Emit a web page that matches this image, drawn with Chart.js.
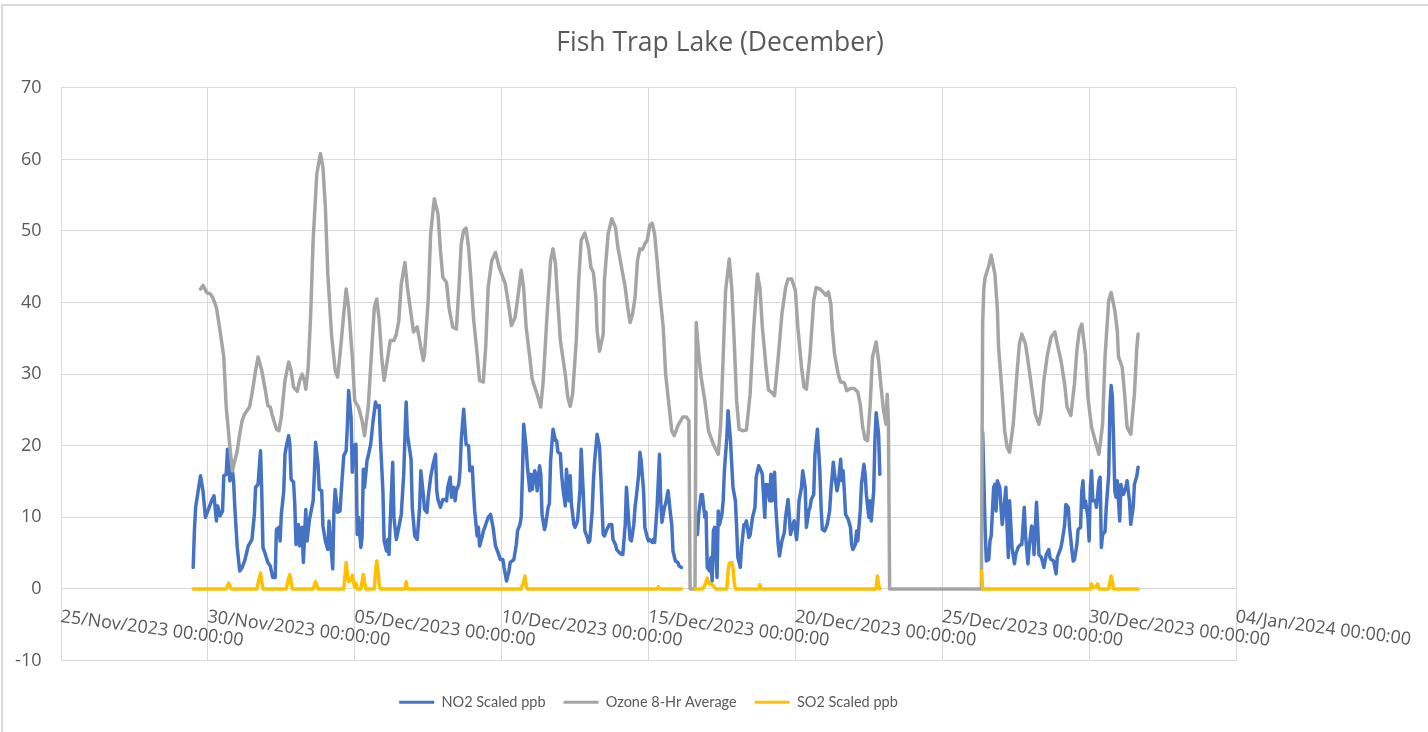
<!DOCTYPE html>
<html>
<head>
<meta charset="utf-8">
<title>Fish Trap Lake (December)</title>
<script src="https://cdn.jsdelivr.net/npm/chart.js@4.4.1/dist/chart.umd.min.js"></script>
<style>
  html, body { margin: 0; padding: 0; background: #fff; }
  canvas { display: block; }
</style>
</head>
<body>
<canvas id="grafico" width="1428" height="732"></canvas>
<script>
// x values are hours since 25/Nov/2023 00:00
const tickHours = [0, 120, 240, 360, 480, 600, 720, 840, 960];
const tickLabels = [
  '25/Nov/2023 00:00:00', '30/Nov/2023 00:00:00', '05/Dec/2023 00:00:00',
  '10/Dec/2023 00:00:00', '15/Dec/2023 00:00:00', '20/Dec/2023 00:00:00',
  '25/Dec/2023 00:00:00', '30/Dec/2023 00:00:00', '04/Jan/2024 00:00:00'
];

const no2Hours = [108,109,110,114,116,118,120,123,125,127,128,130,132,133,135,136,138,139,141,142,144,146,148,150,153,156,158,159,161,163,164,165,167,169,171,173,175,176,178,179,180,182,183,184,186,187,188,190,191,192,194,195,197,198,200,201,203,206,207,208,210,211,213,214,216,218,219,220,222,223,224,226,228,229,231,233,234,235,237,238,239,241,242,243,245,246,247,248,250,251,253,255,257,258,260,261,263,264,266,267,268,269,271,272,274,276,278,280,282,283,285,286,287,289,291,293,294,296,297,299,300,302,304,306,307,308,310,312,314,315,316,318,319,321,322,323,325,326,327,329,330,331,333,334,336,337,338,340,341,342,344,345,347,349,351,353,355,357,359,361,362,364,366,367,370,372,373,375,376,377,378,380,381,383,384,385,387,388,389,391,392,393,395,396,398,399,400,402,404,405,406,408,409,410,412,413,415,416,417,419,420,422,424,425,427,428,430,431,432,434,435,436,438,440,441,443,444,446,448,450,451,453,454,456,458,459,461,462,464,465,466,468,469,470,472,473,474,476,477,479,480,481,483,484,485,487,489,490,491,493,494,496,498,499,500,502,504,505,507,508,520,521,523,524,526,527,528,530,531,532,533,534,536,537,538,540,541,542,544,545,547,548,549,551,552,553,555,556,558,559,560,562,563,565,567,568,570,572,573,575,576,577,579,580,581,583,584,586,587,589,591,592,594,595,596,598,599,601,602,603,605,606,608,609,611,612,613,615,616,618,620,621,622,624,626,628,629,631,632,634,635,637,638,639,640,641,643,645,646,647,649,650,651,653,654,656,657,658,660,661,662,664,665,666,668,669,670,753,755,756,758,759,760,762,763,764,765,767,768,769,770,772,773,774,775,777,779,780,782,784,785,787,788,790,791,793,794,795,797,798,799,801,803,804,805,807,808,809,811,813,814,816,817,818,820,821,823,824,826,827,828,830,831,833,834,835,836,837,839,840,841,842,843,845,846,848,849,850,851,853,854,856,857,858,859,860,861,862,863,865,866,867,868,870,871,873,874,876,877,879,880];
const no2Values = [3.0,8.1,11.4,15.8,13.7,10.0,10.9,12.3,13.0,9.5,11.6,10.2,10.9,15.8,16.0,19.5,15.1,17.9,15.1,11.4,5.8,2.5,3.0,3.9,6.0,6.9,10.4,14.2,14.6,19.3,13.7,5.8,4.8,3.7,3.2,1.6,1.6,8.3,8.6,6.7,10.4,13.7,18.8,19.8,21.4,20.2,15.3,14.9,11.8,6.2,9.0,6.0,8.6,3.7,11.1,6.7,9.7,12.3,16.0,20.5,17.4,13.9,13.7,8.8,6.7,5.5,9.5,7.2,2.8,10.9,13.9,10.7,10.9,13.7,18.6,19.3,23.0,27.7,24.0,16.3,20.0,20.2,7.6,10.0,5.8,7.2,16.7,14.2,17.9,18.6,20.2,23.5,26.1,25.4,25.6,20.7,13.7,6.7,5.3,6.9,4.8,9.5,17.7,10.0,6.9,8.6,10.4,16.0,26.1,21.6,19.3,18.1,11.4,7.4,6.9,11.4,16.5,13.2,11.1,10.7,12.8,15.6,17.4,18.8,13.7,12.5,11.4,12.5,12.5,12.3,14.2,15.6,12.8,14.2,12.3,13.7,14.6,16.5,20.7,25.1,22.6,20.2,20.0,16.5,17.0,13.7,10.9,7.4,8.6,6.0,7.2,8.0,9.0,10.0,10.4,8.6,6.0,5.1,4.1,4.1,3.0,1.1,2.5,3.7,4.1,6.2,8.1,9.0,10.0,16.0,23.0,19.8,17.2,13.7,16.0,13.9,16.5,16.0,13.7,17.2,16.0,10.4,8.3,9.0,11.4,11.9,17.9,22.3,20.7,20.7,19.1,18.9,16.0,14.2,11.6,16.7,12.3,15.8,11.9,9.0,8.6,9.5,13.7,19.5,12.3,8.1,7.2,6.5,6.7,10.9,15.1,17.9,21.6,19.8,16.0,7.6,7.4,8.3,9.0,9.0,6.9,6.2,5.5,5.1,4.8,4.8,9.0,14.2,9.0,6.9,6.7,9.0,11.4,12.8,16.0,19.1,17.9,13.7,8.6,7.2,6.7,6.9,6.5,6.9,6.5,11.4,18.8,12.3,9.3,11.4,11.9,13.7,10.4,9.0,5.3,3.9,3.7,3.2,3.0,null,7.6,10.4,13.2,13.2,10.0,10.7,3.0,2.5,4.4,1.1,8.1,8.6,1.6,10.9,9.0,10.4,12.3,16.5,21.2,24.9,20.7,17.4,14.2,12.3,8.6,4.4,3.0,5.8,9.0,9.0,9.5,7.2,7.5,10.0,11.4,15.6,17.2,16.5,16.0,10.0,14.6,14.6,12.3,16.0,12.3,16.3,11.4,6.2,4.6,6.7,7.9,10.0,12.5,10.4,7.6,9.0,9.5,6.9,9.0,12.3,14.2,16.5,14.2,8.6,10.9,11.4,12.5,13.2,18.8,22.3,16.5,11.4,8.3,8.1,9.0,10.9,13.7,17.7,16.0,13.7,14.6,18.1,15.1,16.5,13.7,10.4,9.8,8.6,6.2,5.5,6.2,8.1,6.7,10.9,14.6,17.4,16.0,13.2,10.0,12.3,9.5,13.7,20.7,24.6,21.6,16.0,null,21.9,8.6,3.9,4.1,6.7,7.4,14.2,14.6,10.9,15.1,14.2,11.4,9.0,10.4,14.2,8.6,4.4,12.3,5.8,3.5,4.8,5.8,6.2,6.2,11.4,7.6,3.5,5.8,8.8,8.1,4.8,12.1,8.6,4.8,4.4,3.0,3.9,4.8,5.5,4.4,4.1,3.9,2.1,4.4,5.3,5.8,6.7,9.0,11.8,11.4,8.6,5.3,3.9,4.1,6.2,8.3,8.6,13.7,15.1,11.4,12.3,10.0,6.7,14.2,16.5,12.3,12.3,11.4,15.1,15.6,5.8,7.6,8.0,11.4,16.0,25.4,28.4,26.8,20.7,13.7,12.8,15.1,9.5,14.6,13.7,13.2,14.2,15.1,12.3,9.0,11.4,14.6,15.8,17.0];

const ozoneHours = [114,116,119,122,124,127,130,133,135,138,140,144,146,148,150,154,156,159,161,164,167,169,171,173,176,178,180,183,186,188,190,193,195,197,199,200,202,204,206,209,212,214,216,218,221,224,226,228,231,233,235,238,240,243,246,248,251,254,256,258,260,262,264,267,269,272,274,276,278,281,283,286,288,291,293,296,297,300,302,305,308,310,312,315,317,320,323,325,327,329,331,333,335,337,340,342,345,347,349,352,355,358,363,366,368,371,374,376,378,380,383,385,387,389,392,394,397,400,402,404,406,408,412,414,416,418,421,423,425,428,431,433,435,437,438,440,443,444,447,450,453,455,458,461,463,465,467,469,471,473,475,477,479,481,483,485,487,489,492,494,496,499,501,504,508,511,513,514,518,519,521,523,526,529,533,537,539,541,543,546,548,550,552,554,557,560,563,566,569,571,573,576,578,581,583,586,589,592,594,597,600,602,605,607,609,612,615,617,620,623,625,627,629,630,632,635,637,640,642,645,648,651,653,655,657,659,661,663,666,668,670,672,674,675,676,677,752,753,754,755,758,760,763,765,766,769,771,773,775,778,781,783,785,788,790,793,796,799,801,803,806,809,812,814,817,820,822,825,828,830,832,834,837,839,842,845,848,851,853,856,858,861,863,864,867,869,871,874,877,879,880];
const ozoneValues = [41.9,42.4,41.4,41.2,40.7,39.3,36.0,32.4,25.4,19.8,16.5,19.3,21.6,23.5,24.4,25.4,27.2,30.5,32.4,30.5,27.7,25.6,25.4,24.0,22.3,22.1,24.0,29.1,31.7,30.5,28.2,27.6,29.1,30.0,29.0,27.9,31.0,38.4,48.7,58.0,60.8,58.9,53.3,44.0,35.6,30.5,29.6,32.8,38.4,41.9,39.3,32.4,26.3,25.4,23.5,21.4,25.4,33.8,39.3,40.5,37.5,32.4,29.1,32.4,34.7,34.7,35.6,37.5,42.6,45.6,42.1,38.4,35.9,36.6,34.7,31.9,32.8,40.3,49.6,54.5,52.4,47.3,43.5,42.8,39.3,36.6,36.3,41.7,48.2,50.1,50.4,47.7,43.1,37.9,32.8,29.1,28.9,33.8,42.1,45.9,47.0,44.9,42.6,39.3,36.8,37.9,41.7,44.5,42.1,36.6,32.4,29.3,28.2,27.2,25.4,29.1,37.9,45.9,47.5,45.4,39.8,34.7,30.0,26.8,25.5,27.2,34.7,43.1,48.7,49.7,47.7,44.9,44.2,40.7,36.1,33.2,35.6,43.1,49.6,51.7,50.5,47.7,44.9,42.1,39.3,37.2,38.4,40.7,45.9,47.5,47.4,48.2,48.7,50.8,51.1,49.6,45.9,41.7,36.6,30.0,26.8,22.1,21.4,22.8,24.0,24.0,23.5,0,0,37.2,32.8,29.6,26.3,22.1,20.2,18.8,23.0,32.4,41.7,46.1,42.1,34.7,26.3,22.3,22.1,22.2,27.2,36.6,44.0,42.1,36.6,31.0,27.8,27.4,27.0,32.4,38.4,42.1,43.3,43.3,41.7,36.6,31.0,28.2,27.9,32.8,40.3,42.1,41.9,41.4,41.0,41.5,39.8,36.6,32.8,30.0,28.9,28.8,27.7,28.0,28.0,27.5,25.8,22.6,20.9,20.7,25.4,32.4,34.5,31.9,28.2,25.0,23.0,27.2,23.5,0,0,37.0,42.0,43.5,45.1,46.6,44.0,39.3,33.8,27.2,22.1,19.8,19.1,23.0,30.0,34.2,35.6,34.2,31.9,28.2,24.4,23.0,24.8,29.1,32.8,35.2,35.9,34.2,31.9,28.6,25.4,24.2,28.6,33.3,36.1,37.0,32.8,26.8,22.6,20.7,18.8,23.0,32.4,40.3,41.4,38.9,36.1,32.4,31.0,27.2,22.6,21.6,27.2,33.8,35.6];

const so2Hours = [108,135,137,139,160,163,165,184,186,187,189,206,208,210,231,233,234,235,237,238,239,240,241,242,245,246,247,248,249,256,257,258,259,260,261,281,282,283,376,378,379,380,381,487,488,489,507,508,518,524,526,528,529,532,535,544,545,546,548,549,550,551,570,571,572,666,667,668,669,670,752,753,841,842,843,846,847,848,856,857,858,859,860,880];
const so2Values = [0,0,0.8,0,0,2.2,0,0,1.5,2.0,0,0,1.0,0,0,3.7,2.0,1.0,1.2,1.9,1.0,0.2,0.8,0,0,1.0,2.0,1.0,0,0,2.5,3.9,2.5,0.5,0,0,1.0,0,0,1.0,1.8,0.5,0,0,0.3,0,0,null,0,0,0.5,1.5,0.8,0.6,0,0,2.5,3.6,3.7,3.0,1.0,0,0,0.6,0,0,1.8,0.5,0,null,2.5,0,0,0.7,0.2,0.3,0.7,0,0,1.0,1.8,1.0,0,0];

const seriesNames = ['NO2 Scaled ppb', 'Ozone 8-Hr Average', 'SO2 Scaled ppb'];
const seriesColors = ['#4472C4', '#A5A5A5', '#FFC000'];

function pontos(horas, valores) {
  return horas.map((h, i) => ({ x: h, y: valores[i] }));
}

const fonteEixo = { family: '"Open Sans", "Noto Sans", sans-serif', size: 18 };

// white background + the light frame at the top/left edges
const molduraPlugin = {
  id: 'moldura',
  beforeDraw(chart) {
    const ctx = chart.ctx;
    ctx.save();
    ctx.fillStyle = '#ffffff';
    ctx.fillRect(0, 0, chart.width, chart.height);
    ctx.strokeStyle = '#d9d9d9';
    ctx.lineWidth = 2;
    ctx.beginPath();
    ctx.moveTo(2, chart.height);
    ctx.lineTo(2, 5);
    ctx.lineTo(chart.width, 5);
    ctx.stroke();
    ctx.restore();
  }
};

// date labels hang under the 0 line, rotated clockwise, like Excel
const rotulosXPlugin = {
  id: 'rotulosX',
  afterDraw(chart) {
    const ctx = chart.ctx;
    const xs = chart.scales.x;
    const ys = chart.scales.y;
    const y0 = ys.getPixelForValue(0);
    ctx.save();
    ctx.font = `${fonteEixo.size}px ${fonteEixo.family}`;
    ctx.fillStyle = '#595959';
    ctx.textAlign = 'left';
    ctx.textBaseline = 'alphabetic';
    tickHours.forEach((h, i) => {
      ctx.save();
      ctx.translate(xs.getPixelForValue(h) - 1, y0 + 33);
      ctx.rotate(7.5 * Math.PI / 180);
      ctx.fillText(tickLabels[i], 0, 0);
      ctx.restore();
    });
    ctx.restore();
  }
};

const datasets = [
  { label: seriesNames[0], data: pontos(no2Hours, no2Values), order: 3 },
  { label: seriesNames[1], data: pontos(ozoneHours, ozoneValues), order: 2 },
  { label: seriesNames[2], data: pontos(so2Hours, so2Values), order: 1 }
].map((d, i) => ({
  ...d,
  borderColor: seriesColors[i],
  backgroundColor: seriesColors[i],
  borderWidth: 3.5,
  pointRadius: 0,
  tension: 0,
  spanGaps: false,
  borderJoinStyle: 'round',
  borderCapStyle: 'round'
}));

new Chart(document.getElementById('grafico'), {
  type: 'line',
  data: { datasets },
  plugins: [molduraPlugin, rotulosXPlugin],
  options: {
    responsive: false,
    animation: false,
    devicePixelRatio: 1,
    layout: { padding: { left: 12, top: 0, right: 0, bottom: 12.5 } },
    scales: {
      x: {
        type: 'linear',
        min: 0,
        max: 960,
        ticks: { stepSize: 120, display: false },
        grid: { color: '#d9d9d9', drawTicks: false },
        border: { display: false },
        afterFit(s) { s.height = 16.5; }
      },
      y: {
        min: -10,
        max: 70,
        ticks: { stepSize: 10, font: fonteEixo, color: '#595959', padding: 19.5 },
        grid: { color: '#d9d9d9', drawTicks: false },
        border: { display: false },
        afterFit(s) { s.width = 49; }
      },
      y2: {
        position: 'right',
        min: -10,
        max: 70,
        ticks: { display: false },
        grid: { display: false },
        border: { display: false },
        afterFit(s) { s.width = 192; }
      }
    },
    plugins: {
      title: {
        display: true,
        text: 'Fish Trap Lake (December)',
        color: '#595959',
        font: { family: '"Open Sans", "Noto Sans", sans-serif', size: 26.5, weight: 'normal' },
        padding: { top: 28, bottom: 28 }
      },
      legend: {
        position: 'bottom',
        fullSize: false,
        labels: {
          boxWidth: 35,
          boxHeight: 3,
          padding: 18,
          color: '#595959',
          font: { family: 'Lato, sans-serif', size: 14.5 },
          sort: (a, b) => a.datasetIndex - b.datasetIndex,
          generateLabels(chart) {
            return Chart.defaults.plugins.legend.labels.generateLabels(chart)
              .map(l => ({ ...l, lineWidth: 0 }));
          }
        }
      },
      tooltip: { enabled: false }
    }
  }
});
</script>
</body>
</html>
